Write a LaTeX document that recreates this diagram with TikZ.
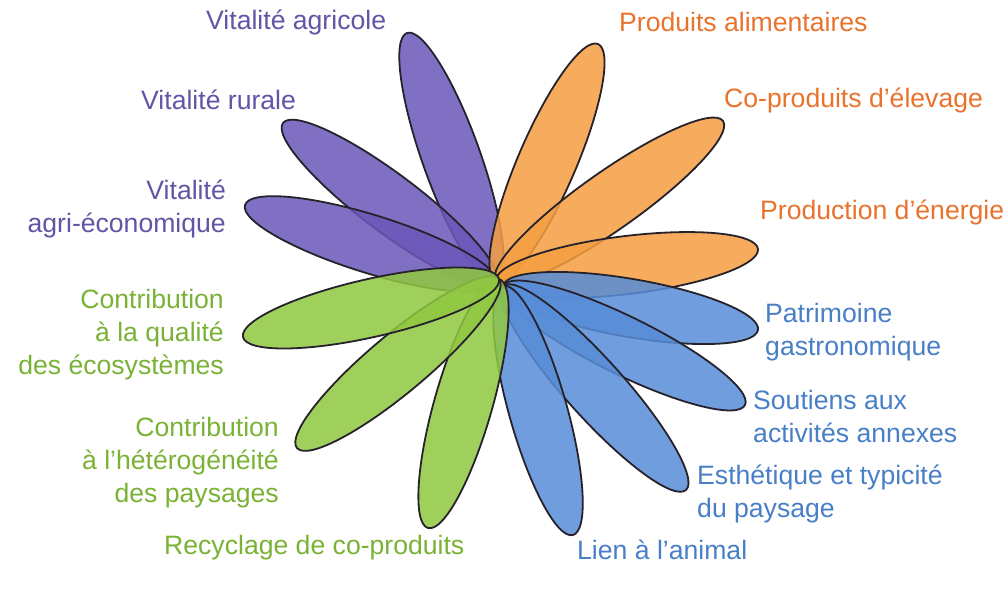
\documentclass[tikz,border=0pt]{standalone}
\usepackage{fontspec}
\setmainfont{Liberation Sans}
\usetikzlibrary{shapes.geometric,calc}
\definecolor{purpF}{RGB}{106,87,185}
\definecolor{orngF}{RGB}{245,158,64}
\definecolor{grnF}{RGB}{144,200,64}
\definecolor{bluF}{RGB}{87,141,216}
\definecolor{purpT}{RGB}{100,84,166}
\definecolor{orngT}{RGB}{234,114,42}
\definecolor{grnT}{RGB}{122,178,54}
\definecolor{bluT}{RGB}{72,127,198}
\definecolor{petalline}{RGB}{38,34,44}
\newcommand\petal[4]{%
  \path let \p1=#2, \p2=#3, \n1={atan2(\y2-\y1,\x2-\x1)}, \n2={veclen(\x2-\x1,\y2-\y1)} in
    node[petalshape, fill=#4, minimum width=\n2, rotate=\n1] (#1) at ($(\p1)!0.5!(\p2)$) {};}
\begin{document}
\begin{tikzpicture}[x=1pt,y=-1pt,
  petalshape/.style={ellipse, draw=petalline, line width=1.8pt, inner sep=0pt, outer sep=0pt,
    minimum height=58pt, fill opacity=0.85},
  lab/.style={font=\fontsize{26.6}{33}\selectfont, inner sep=0pt}]
\useasboundingbox[fill=white] (0,0) rectangle (1008,592);
% purple
\petal{p1}{(496,283)}{(407,33)}{purpF}
\petal{p2}{(496,283)}{(283,123)}{purpF}
\petal{p3}{(496,283)}{(245,205)}{purpF}
% orange
\petal{o1}{(496,281)}{(598,44)}{orngF}
\petal{o2}{(496,281)}{(723,121)}{orngF}
\petal{o3}{(496,281)}{(758,249)}{orngF}
% blue
\petal{b1}{(503,286)}{(758,330)}{bluF}
\petal{b2}{(503,286)}{(745,405)}{bluF}
\petal{b3}{(503,286)}{(686,490)}{bluF}
\petal{b4}{(503,286)}{(573,535)}{bluF}
% green
\petal{g1}{(499,279)}{(428,528)}{grnF}
\petal{g2}{(499,279)}{(297,448)}{grnF}
\petal{g3}{(499,279)}{(243,337)}{grnF}
% labels
\node[lab, text=purpT, anchor=west] (lp1) at (206,22) {Vitalité agricole};
\node[lab, text=purpT, anchor=west] (lp2) at (141,100) {Vitalité rurale};
\node[lab, text=purpT, anchor=east, align=right] (lp3) at (226,209) {Vitalité\\agri-économique};
\node[lab, text=orngT, anchor=west] (lo1) at (619,22) {Produits alimentaires};
\node[lab, text=orngT, anchor=west] (lo2) at (724,100) {Co-produits d'élevage};
\node[lab, text=orngT, anchor=west] (lo3) at (760,212) {Production d'énergie};
\node[lab, text=bluT, anchor=west, align=left] (lb1) at (765,332) {Patrimoine\\gastronomique};
\node[lab, text=bluT, anchor=west, align=left] (lb2) at (753,416) {Soutiens aux\\activités annexes};
\node[lab, text=bluT, anchor=west, align=left] (lb3) at (697,494) {Esthétique et typicité\\du paysage};
\node[lab, text=bluT, anchor=west] (lb4) at (577,550) {Lien à l'animal};
\node[lab, text=grnT, anchor=west] (lg1) at (164,548) {Recyclage de co-produits};
\node[lab, text=grnT, anchor=east, align=right] (lg2) at (279,463) {Contribution\\à l'hétérogénéité\\des paysages};
\node[lab, text=grnT, anchor=east, align=right] (lg3) at (224,335) {Contribution\\à la qualité\\des écosystèmes};
\end{tikzpicture}
\end{document}
